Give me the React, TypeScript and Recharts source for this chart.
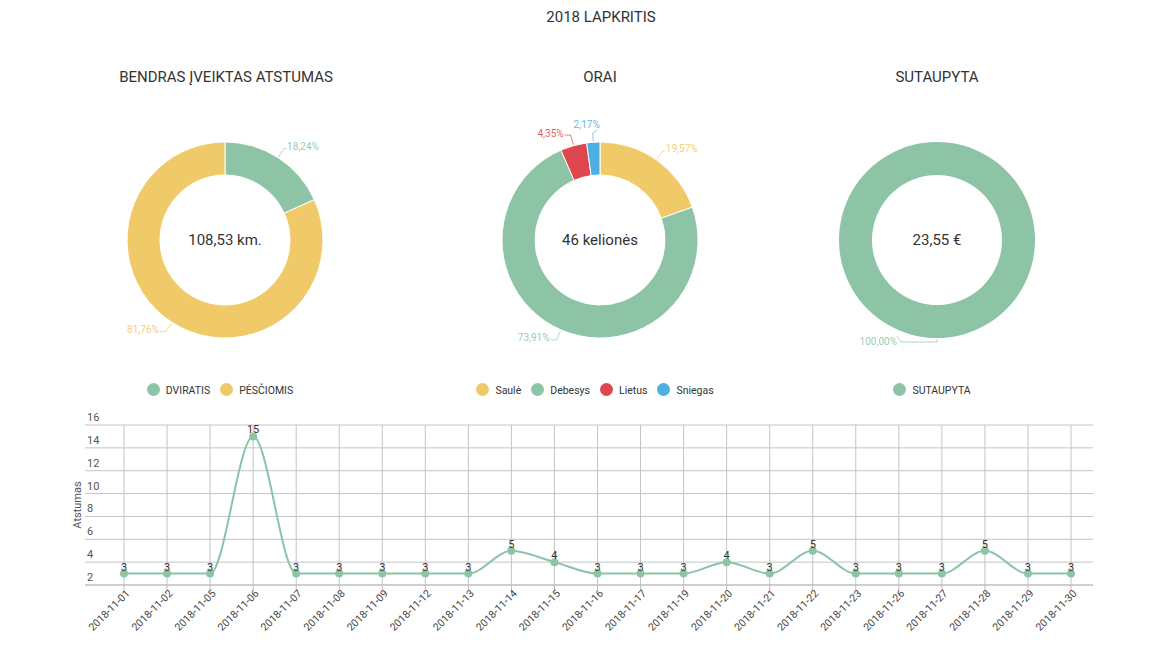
import React from 'react';
import {
  PieChart,
  Pie,
  Cell,
  Legend,
  Label,
  LineChart,
  Line,
  XAxis,
  YAxis,
  CartesianGrid,
  LabelList,
  ReferenceLine,
} from 'recharts';

const GREEN = '#8dc4a6';
const YELLOW = '#f0ca68';
const RED = '#de474d';
const BLUE = '#4eaee2';

const distanceNames = ['DVIRATIS', 'PĖSČIOMIS'];
const distanceValues = [19.8, 88.73];
const distanceColors = [GREEN, YELLOW];

const weatherNames = ['Saulė', 'Debesys', 'Lietus', 'Sniegas'];
const weatherValues = [9, 34, 2, 1];
const weatherColors = [YELLOW, GREEN, RED, BLUE];

const savedNames = ['SUTAUPYTA'];
const savedValues = [23.55];
const savedColors = [GREEN];

const dates = [
  '2018-11-01', '2018-11-02', '2018-11-05', '2018-11-06', '2018-11-07', '2018-11-08',
  '2018-11-09', '2018-11-12', '2018-11-13', '2018-11-14', '2018-11-15', '2018-11-16',
  '2018-11-17', '2018-11-19', '2018-11-20', '2018-11-21', '2018-11-22', '2018-11-23',
  '2018-11-26', '2018-11-27', '2018-11-28', '2018-11-29', '2018-11-30',
];
const distances = [3, 3, 3, 15, 3, 3, 3, 3, 3, 5, 4, 3, 3, 3, 4, 3, 5, 3, 3, 3, 5, 3, 3];
const yTicks = [2, 4, 6, 8, 10, 12, 14, 16];

const FONT = 'Roboto, sans-serif';
const PLOT_LEFT = 85;
const PIE_CX = 180;
const PIE_CY = 150;
const RAD = Math.PI / 180;
const GRID = '#c4c4c4';

function makePieLabel(colors: string[]) {
  return (props: any) => {
    const { cx, cy, midAngle, outerRadius, percent, index } = props;
    const c = Math.cos(-midAngle * RAD);
    const s = Math.sin(-midAngle * RAD);
    const color = colors[index];
    const txt = (percent * 100).toFixed(2).replace('.', ',') + '%';
    const x0 = cx + (outerRadius + 1) * c;
    const y0 = cy + (outerRadius + 1) * s;
    const nearTop = Math.abs(c) < 0.15 && s < 0;
    const nearBottom = Math.abs(c) < 0.15 && s > 0;
    let pts: string;
    let tx: number;
    let ty: number;
    let anchor: 'start' | 'end' | 'middle';
    if (nearTop) {
      const x1 = cx + (outerRadius + 9) * c;
      const y1 = cy + (outerRadius + 9) * s;
      pts = `${x0},${y0} ${x1},${y1} ${x1 + 4},${y1 - 3}`;
      tx = x1 - 6;
      ty = y1 - 9;
      anchor = 'middle';
    } else if (nearBottom) {
      const y1 = cy + (outerRadius + 4) * s;
      const x2 = x0 - 36;
      pts = `${x0},${y0} ${x0},${y1} ${x2},${y1} ${x2 - 4},${y1 - 6}`;
      tx = x2 - 4;
      ty = y1 - 1;
      anchor = 'end';
    } else {
      const right = c > 0;
      const x1 = cx + (outerRadius + 11) * c;
      const y1 = cy + (outerRadius + 11) * s;
      const x2 = x1 + (right ? 2 : -6);
      pts = `${x0},${y0} ${x1},${y1} ${x2},${y1}`;
      tx = x2 + (right ? 1 : -1);
      ty = y1 - 2;
      anchor = right ? 'start' : 'end';
    }
    return (
      <g>
        <polyline points={pts} fill="none" stroke={color} strokeOpacity={0.7} strokeWidth={1} />
        <text
          x={tx}
          y={ty}
          textAnchor={anchor}
          dominantBaseline="central"
          fill={color}
          fillOpacity={0.9}
          fontSize={10}
          fontFamily={FONT}
        >
          {txt}
        </text>
      </g>
    );
  };
}

function Donut(props: {
  names: string[];
  values: number[];
  colors: string[];
  centerText: string;
  left: number;
}) {
  const { names, values, colors, centerText, left } = props;
  const data = names.map((n, i) => ({ name: n, value: values[i], fill: colors[i] }));
  return (
    <div style={{ position: 'absolute', left, top: 90 }}>
      <PieChart width={360} height={320} margin={{ top: 0, right: 0, bottom: 0, left: 0 }}>
        <Pie
          data={data}
          dataKey="value"
          nameKey="name"
          cx={PIE_CX}
          cy={PIE_CY}
          innerRadius={65}
          outerRadius={98}
          startAngle={90}
          endAngle={-270}
          stroke={values.length > 1 ? '#fff' : 'none'}
          strokeWidth={1}
          isAnimationActive={false}
          labelLine={false}
          label={makePieLabel(colors)}
        >
          {data.map((d, i) => (
            <Cell key={i} fill={colors[i]} />
          ))}
          <Label
            position="center"
            content={() => (
              <text
                x={PIE_CX}
                y={PIE_CY}
                textAnchor="middle"
                dominantBaseline="central"
                fill="#333"
                fontSize={15}
                fontFamily={FONT}
              >
                {centerText}
              </text>
            )}
          />
        </Pie>
        <Legend
          iconType="circle"
          iconSize={13}
          verticalAlign="bottom"
          align="center"
          itemSorter={(item: any) => names.indexOf(item.value)}
          wrapperStyle={{ top: 289, bottom: 'auto', left: 0, width: 360, fontFamily: FONT, whiteSpace: 'nowrap' }}
          formatter={(value: any) => (
            <span style={{ color: '#333', fontSize: 10.5, marginLeft: 2 }}>{value}</span>
          )}
        />
      </PieChart>
    </div>
  );
}

const XTick = (props: any) => {
  const { x, y, payload } = props;
  return (
    <g transform={`translate(${x},${y})`}>
      <text
        x={0}
        y={0}
        dx={3}
        dy={6}
        textAnchor="end"
        transform="rotate(-45)"
        fontSize={10.5}
        fill="#444"
        fontFamily={FONT}
      >
        {payload.value}
      </text>
    </g>
  );
};

const YTick = (props: any) => {
  const { y, payload } = props;
  return (
    <text x={PLOT_LEFT + 2} y={y - 4} textAnchor="start" fontSize={11} fill="#555" fontFamily={FONT}>
      {payload.value}
    </text>
  );
};

const titleStyle = (center: number, top: number): React.CSSProperties => ({
  position: 'absolute',
  left: center - 200,
  top,
  width: 400,
  textAlign: 'center',
  fontSize: 15,
  lineHeight: '18px',
  color: '#333',
  fontFamily: FONT,
});

export default function App() {
  const lineData = dates.map((d, i) => ({ date: d, value: distances[i] }));
  return (
    <div
      style={{
        position: 'absolute',
        left: 0,
        top: 0,
        width: 1170,
        height: 646,
        background: '#fff',
        fontFamily: FONT,
        overflow: 'hidden',
      }}
    >
      <div style={titleStyle(601, 8)}>2018 LAPKRITIS</div>
      <div style={titleStyle(226, 68)}>BENDRAS ĮVEIKTAS ATSTUMAS</div>
      <div style={titleStyle(600, 68)}>ORAI</div>
      <div style={titleStyle(937, 68)}>SUTAUPYTA</div>

      <Donut names={distanceNames} values={distanceValues} colors={distanceColors} centerText="108,53 km." left={45} />
      <Donut names={weatherNames} values={weatherValues} colors={weatherColors} centerText="46 kelionės" left={420} />
      <Donut names={savedNames} values={savedValues} colors={savedColors} centerText="23,55 €" left={757} />

      <div style={{ position: 'absolute', left: 0, top: 405 }}>
        <LineChart
          width={1170}
          height={240}
          data={lineData}
          margin={{ top: 20, right: 77, bottom: 0, left: 70 }}
        >
          <CartesianGrid stroke={GRID} vertical={false} />
          {dates.map((d) => (
            <ReferenceLine key={d} x={d} stroke={GRID} strokeWidth={1} />
          ))}
          <XAxis
            dataKey="date"
            interval={0}
            padding={{ left: 39, right: 22 }}
            height={60}
            tick={<XTick />}
            tickSize={5}
            tickLine={{ stroke: '#bbb' }}
            axisLine={{ stroke: '#bbb' }}
          />
          <YAxis
            domain={[2, 16]}
            ticks={yTicks}
            interval={0}
            width={15}
            tick={<YTick />}
            axisLine={false}
            tickLine={false}
            label={{ value: 'Atstumas', angle: -90, position: 'center', fontSize: 11, fill: '#555', fontFamily: FONT }}
          />
          <Line
            type="monotone"
            dataKey="value"
            stroke={GREEN}
            strokeWidth={2}
            dot={{ r: 4, fill: GREEN, stroke: GREEN, strokeWidth: 0 }}
            isAnimationActive={false}
          >
            <LabelList dataKey="value" position="top" offset={3} fill="#333" fontSize={11} fontFamily={FONT} />
          </Line>
        </LineChart>
      </div>
    </div>
  );
}
